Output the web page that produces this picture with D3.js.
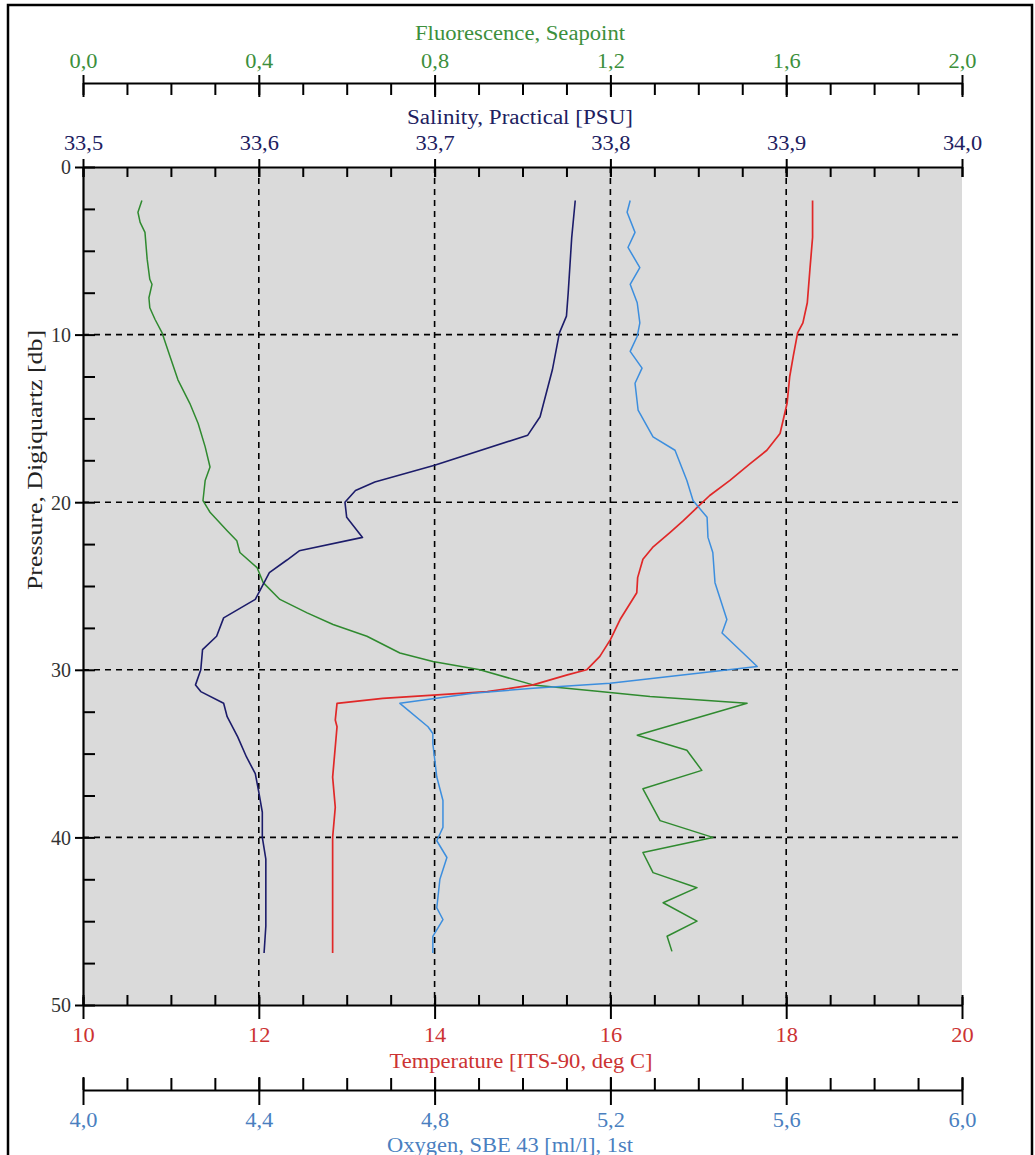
<!DOCTYPE html>
<html>
<head>
<meta charset="utf-8">
<script src="https://cdn.jsdelivr.net/npm/d3@7/dist/d3.min.js"></script>
<style>
  html, body { margin: 0; padding: 0; background: #ffffff; }
  svg { display: block; }
  svg text { font-family: "Liberation Serif", Tinos, "Times New Roman", Times, "DejaVu Serif", serif; }
</style>
</head>
<body>
<svg id="chart" width="1035" height="1155"></svg>
<script>
// ---------------- DATA ----------------
const pressureTicks = [0, 10, 20, 30, 40, 50];
const fluorTicks = [0.0, 0.4, 0.8, 1.2, 1.6, 2.0];
const salTicks = [33.5, 33.6, 33.7, 33.8, 33.9, 34.0];
const tempTicks = [10, 12, 14, 16, 18, 20];
const oxyTicks = [4.0, 4.4, 4.8, 5.2, 5.6, 6.0];

// Salinity, Practical [PSU]
const salPres = [2.0, 4.2, 7.5, 8.9, 9.9, 12.1, 14.9, 16.0, 17.8, 18.8, 19.3, 20.0, 20.9, 22.1, 22.9, 23.45, 24.2, 25.2, 25.8, 26.9, 28.0, 28.8, 30.0, 30.9, 31.3, 32.0, 32.8, 34.0, 35.2, 36.2, 37.3, 38.5, 40.0, 41.3, 45.3, 46.9];
const salVal  = [33.780, 33.778, 33.776, 33.775, 33.771, 33.767, 33.760, 33.753, 33.700, 33.666, 33.655, 33.649, 33.650, 33.659, 33.623, 33.616, 33.606, 33.601, 33.598, 33.580, 33.576, 33.568, 33.567, 33.564, 33.567, 33.580, 33.582, 33.588, 33.593, 33.598, 33.600, 33.602, 33.602, 33.604, 33.604, 33.603];

// Temperature [ITS-90, deg C]
const tempPres = [2.0, 4.2, 6.1, 8.1, 9.3, 9.9, 11.3, 12.5, 14.1, 15.9, 16.9, 17.7, 18.7, 19.6, 20.3, 21.1, 21.8, 22.7, 23.4, 24.5, 25.4, 27.0, 28.2, 29.2, 30.0, 30.3, 30.9, 31.3, 31.5, 31.7, 32.0, 33.0, 33.4, 36.4, 38.2, 40.0, 46.9];
const tempVal  = [18.30, 18.30, 18.27, 18.24, 18.19, 18.13, 18.08, 18.04, 18.01, 17.93, 17.78, 17.59, 17.36, 17.13, 16.99, 16.83, 16.68, 16.48, 16.37, 16.31, 16.30, 16.11, 16.00, 15.88, 15.73, 15.51, 15.12, 14.60, 14.03, 13.41, 12.89, 12.87, 12.89, 12.84, 12.87, 12.84, 12.84];

// Oxygen, SBE 43 [ml/l], 1st
const oxyPres = [2.0, 2.7, 3.9, 4.8, 6.0, 7.0, 8.1, 9.3, 10.1, 11.0, 12.0, 12.9, 14.5, 16.1, 16.9, 18.7, 19.9, 20.9, 22.1, 23.0, 24.8, 27.0, 27.8, 29.4, 29.8, 30.8, 31.1, 31.4, 32.0, 33.4, 33.8, 34.4, 36.4, 37.8, 39.4, 40.2, 41.2, 42.5, 44.2, 44.9, 45.9, 46.9];
const oxyVal  = [5.245, 5.238, 5.256, 5.240, 5.267, 5.245, 5.261, 5.267, 5.261, 5.245, 5.272, 5.256, 5.263, 5.297, 5.347, 5.374, 5.388, 5.420, 5.422, 5.433, 5.438, 5.465, 5.454, 5.518, 5.534, 5.199, 5.024, 4.887, 4.721, 4.785, 4.796, 4.796, 4.805, 4.819, 4.819, 4.805, 4.828, 4.812, 4.805, 4.819, 4.796, 4.796];

// Fluorescence, Seapoint
const fluPres = [2.0, 2.7, 3.3, 3.9, 5.5, 6.7, 7.0, 7.8, 8.4, 9.1, 9.9, 11.3, 12.7, 14.1, 15.3, 16.7, 17.9, 18.7, 19.9, 20.6, 21.7, 22.3, 23.0, 23.9, 24.8, 25.8, 26.6, 27.3, 28.0, 29.0, 29.5, 30.0, 30.9, 31.3, 31.6, 32.0, 33.9, 34.8, 36.0, 37.1, 39.0, 40.0, 40.9, 42.1, 43.0, 43.9, 45.0, 45.9, 46.8];
const fluVal  = [0.134, 0.125, 0.130, 0.141, 0.146, 0.152, 0.157, 0.150, 0.152, 0.164, 0.180, 0.198, 0.216, 0.243, 0.262, 0.278, 0.289, 0.278, 0.273, 0.289, 0.328, 0.350, 0.357, 0.396, 0.410, 0.448, 0.510, 0.569, 0.646, 0.721, 0.796, 0.903, 1.024, 1.176, 1.290, 1.511, 1.261, 1.374, 1.408, 1.274, 1.313, 1.433, 1.274, 1.297, 1.397, 1.320, 1.397, 1.329, 1.340];

// ---------------- LAYOUT ----------------
const L = 83, R = 962, T = 167, B = 1005;
const yAxisFl = 83, yAxisOx = 1090;
const SX = 1.12;
const FONT = "Liberation Serif, Tinos, Times New Roman, Times, DejaVu Serif, serif";
const COL = {
  flu: "#2f8a2f", fluText: "#3c8f3c",
  sal: "#1c1c6a", salText: "#202060",
  tem: "#e02828", temText: "#cc3333",
  oxy: "#3c8ede", oxyText: "#4a7fbf"
};

const svg = d3.select("#chart");

const y = d3.scaleLinear().domain([0, 50]).range([T, B]);
const xF = d3.scaleLinear().domain([0, 2]).range([L, R]);
const xS = d3.scaleLinear().domain([33.5, 34.0]).range([L, R]);
const xT = d3.scaleLinear().domain([10, 20]).range([L, R]);
const xO = d3.scaleLinear().domain([4, 6]).range([L, R]);

const comma = f => v => d3.format(f)(v).replace(".", ",");

// outer frame
svg.append("rect").attr("x", 8).attr("y", 5).attr("width", 1024).attr("height", 1170)
  .attr("fill", "none").attr("stroke", "#000").attr("stroke-width", 2.5);

// plot background
svg.append("rect").attr("x", L).attr("y", T).attr("width", R - L).attr("height", B - T)
  .attr("fill", "#dadada");

// grid lines
const gridX = tempTicks.slice(1, -1);
const gridY = pressureTicks.slice(1, -1);
svg.append("g").selectAll("line").data(gridX).join("line")
  .attr("x1", d => xT(d)).attr("x2", d => xT(d)).attr("y1", T).attr("y2", B)
  .attr("stroke", "#000").attr("stroke-width", 1.6).attr("stroke-dasharray", "6,5");
svg.append("g").selectAll("line").data(gridY).join("line")
  .attr("x1", L).attr("x2", R).attr("y1", d => y(d)).attr("y2", d => y(d))
  .attr("stroke", "#000").attr("stroke-width", 1.6).attr("stroke-dasharray", "6,5");

// ---------------- SERIES ----------------
function drawSeries(pres, vals, xs, color, w) {
  const pts = pres.map((p, i) => [xs(vals[i]), y(p)]);
  svg.append("path").datum(pts)
    .attr("d", d3.line())
    .attr("fill", "none").attr("stroke", color).attr("stroke-width", w)
    .attr("stroke-linejoin", "round");
}
drawSeries(fluPres, fluVal, xF, COL.flu, 1.5);
drawSeries(salPres, salVal, xS, COL.sal, 1.6);
drawSeries(tempPres, tempVal, xT, COL.tem, 1.7);
drawSeries(oxyPres, oxyVal, xO, COL.oxy, 1.5);

// ---------------- AXES ----------------
function styleText(sel, color, yPos) {
  sel.attr("font-family", FONT);
  sel.selectAll(".tick text")
    .attr("y", yPos).attr("dy", null).attr("x", 0)
    .attr("transform", `scale(${SX},1)`)
    .attr("fill", color)
    .attr("font-family", FONT).attr("font-size", 20);
}
function minorValues(scale, n) {
  const [a, b] = scale.domain();
  return d3.range(0, n + 1).map(i => a + (b - a) * i / n);
}

// Fluorescence axis (top, standalone line)
{
  const gMin = svg.append("g").attr("transform", `translate(0,${yAxisFl})`)
    .call(d3.axisTop(xF).tickValues(minorValues(xF, 20)).tickSize(0).tickSizeOuter(0).tickFormat(""));
  gMin.selectAll(".tick line").attr("y1", 0).attr("y2", 12).attr("stroke-width", 2);
  gMin.select(".domain").attr("stroke-width", 2);
  const g = svg.append("g").attr("transform", `translate(0,${yAxisFl})`)
    .call(d3.axisTop(xF).tickValues(fluorTicks).tickSize(8).tickSizeOuter(0).tickFormat(comma(".1f")));
  g.select(".domain").remove();
  g.selectAll(".tick line").attr("y1", 14).attr("y2", -8).attr("stroke-width", 2);
  styleText(g, COL.fluText, -15);
}

// Salinity axis (top of plot)
{
  const gMin = svg.append("g").attr("transform", `translate(0,${T})`)
    .call(d3.axisTop(xS).tickValues(minorValues(xS, 20)).tickSize(0).tickSizeOuter(0).tickFormat(""));
  gMin.selectAll(".tick line").attr("y1", 0).attr("y2", 10).attr("stroke-width", 2);
  gMin.select(".domain").attr("stroke-width", 2);
  const g = svg.append("g").attr("transform", `translate(0,${T})`)
    .call(d3.axisTop(xS).tickValues(salTicks).tickSize(8).tickSizeOuter(0).tickFormat(comma(".1f")));
  g.select(".domain").remove();
  g.selectAll(".tick line").attr("y1", 10).attr("y2", -8).attr("stroke-width", 2);
  styleText(g, COL.salText, -17);
}

// Temperature axis (bottom of plot)
{
  const gMin = svg.append("g").attr("transform", `translate(0,${B})`)
    .call(d3.axisBottom(xT).tickValues(minorValues(xT, 20)).tickSize(0).tickSizeOuter(0).tickFormat(""));
  gMin.selectAll(".tick line").attr("y1", 0).attr("y2", -10).attr("stroke-width", 2);
  gMin.select(".domain").attr("stroke-width", 2);
  const g = svg.append("g").attr("transform", `translate(0,${B})`)
    .call(d3.axisBottom(xT).tickValues(tempTicks).tickSize(14).tickSizeOuter(0).tickFormat(d3.format("d")));
  g.select(".domain").remove();
  g.selectAll(".tick line").attr("y1", -8).attr("y2", 14).attr("stroke-width", 2);
  styleText(g, COL.temText, 37);
}

// Oxygen axis (bottom, standalone line)
{
  const gMin = svg.append("g").attr("transform", `translate(0,${yAxisOx})`)
    .call(d3.axisBottom(xO).tickValues(minorValues(xO, 20)).tickSize(0).tickSizeOuter(0).tickFormat(""));
  gMin.selectAll(".tick line").attr("y1", 0).attr("y2", -12).attr("stroke-width", 2);
  gMin.select(".domain").attr("stroke-width", 2);
  const g = svg.append("g").attr("transform", `translate(0,${yAxisOx})`)
    .call(d3.axisBottom(xO).tickValues(oxyTicks).tickSize(14).tickSizeOuter(0).tickFormat(comma(".1f")));
  g.select(".domain").remove();
  g.selectAll(".tick line").attr("y1", -13).attr("y2", 15).attr("stroke-width", 2);
  styleText(g, COL.oxyText, 37);
}

// Pressure axis (left)
{
  const gMin = svg.append("g").attr("transform", `translate(${L},0)`)
    .call(d3.axisLeft(y).tickValues(minorValues(y, 20)).tickSize(0).tickSizeOuter(0).tickFormat(""));
  gMin.selectAll(".tick line").attr("x1", 0).attr("x2", 12).attr("stroke-width", 2);
  gMin.select(".domain").attr("stroke-width", 2.2);
  const g = svg.append("g").attr("transform", `translate(${L},0)`)
    .call(d3.axisLeft(y).tickValues(pressureTicks).tickSize(8).tickSizeOuter(0).tickFormat(d3.format("d")));
  g.select(".domain").remove();
  g.attr("font-family", FONT);
  g.selectAll(".tick line").attr("x1", 0).attr("x2", -8).attr("stroke-width", 2);
  g.selectAll(".tick text")
    .attr("x", -12).attr("dy", "0.34em")
    .attr("fill", "#333")
    .attr("font-family", FONT).attr("font-size", 20);
}

// ---------------- TITLES ----------------
function title(txt, cx, cy, color, len, rot) {
  const t = svg.append("text")
    .attr("text-anchor", "middle")
    .attr("fill", color)
    .attr("font-family", FONT).attr("font-size", 20)
    .attr("textLength", len).attr("lengthAdjust", "spacingAndGlyphs")
    .text(txt);
  if (rot) t.attr("transform", `translate(${cx},${cy}) rotate(-90)`);
  else t.attr("x", cx).attr("y", cy);
}
title("Fluorescence, Seapoint", 520, 40, COL.fluText, 210);
title("Salinity, Practical [PSU]", 520, 124, COL.salText, 226);
title("Temperature [ITS-90, deg C]", 521, 1068, COL.temText, 263);
title("Oxygen, SBE 43 [ml/l], 1st", 510, 1152, COL.oxyText, 246);
title("Pressure, Digiquartz [db]", 42, 460, "#222", 260, true);
</script>
</body>
</html>
